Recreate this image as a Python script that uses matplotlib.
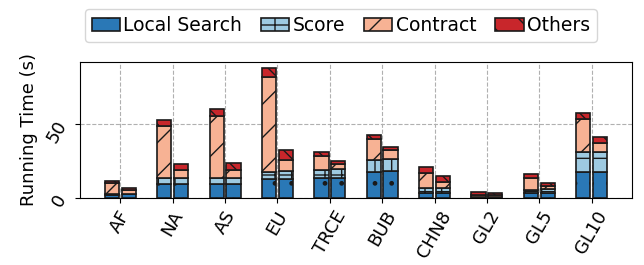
import numpy as np
import matplotlib.pyplot as plt

# datasets
categories = ['AF', 'NA', 'AS', 'EU', 'TRCE', 'BUB', 'CHN8', 'GL2', 'GL5', 'GL10']

# first bar of each pair
local1    = [2.0, 9.2, 9.2, 12.6, 13.3, 17.8, 3.5, 0.6, 3.6, 17.8]
score1    = [1.0, 4.1, 4.1, 5.2, 5.6, 7.9, 3.0, 0.3, 1.8, 13.5]
contract1 = [7.0, 35.3, 42.3, 64.0, 9.7, 14.3, 10.2, 1.3, 8.1, 22.1]
others1   = [1.5, 4.1, 4.3, 6.3, 2.3, 2.8, 4.0, 1.6, 2.7, 3.8]

# second bar of each pair
local2    = [2.5, 9.2, 9.2, 12.6, 13.3, 18.5, 3.5, 0.6, 3.6, 17.8]
score2    = [0.5, 4.1, 4.0, 5.5, 6.3, 7.9, 3.0, 0.3, 2.3, 13.5]
contract2 = [2.5, 5.6, 6.0, 7.9, 3.4, 6.0, 4.5, 0.8, 2.2, 6.1]
others2   = [1.5, 4.1, 4.3, 6.3, 2.0, 1.8, 4.1, 1.4, 1.8, 3.6]

labels = ['Local Search', 'Score', 'Contract', 'Others']
colors = ['#2a78b6', '#9ecae1', '#f7b294', '#c8262b']
hatches = ['.', '+', '/', '\\']

plt.rcParams['hatch.linewidth'] = 1.0

fig = plt.figure(figsize=(6.44, 2.65), dpi=100)
ax = fig.add_axes([80/644, 1 - 198/265, 552/644, 136/265])

x = np.arange(len(categories))
w = 0.27
off = 0.16

for k, (xs, parts) in enumerate([(x - off, [local1, score1, contract1, others1]),
                                 (x + off, [local2, score2, contract2, others2])]):
    bottom = np.zeros(len(categories))
    for i, vals in enumerate(parts):
        ax.bar(xs, vals, w, bottom=bottom, color=colors[i], edgecolor='#1a1a1a',
               linewidth=1.2, hatch=hatches[i], zorder=3,
               label=labels[i] if k == 0 else None)
        bottom += np.array(vals)

ax.set_xlim(-0.77, len(categories) - 1 + 0.77)
ax.set_ylim(0, 92)
ax.set_yticks([0, 50])
ax.set_xticks(x)
ax.set_xticklabels(categories, rotation=60, fontsize=13)
ax.tick_params(axis='y', labelsize=13, labelrotation=60)
ax.set_ylabel('Running Time (s)', fontsize=13)
ax.grid(True, linestyle='--', color='#b0b0b0', linewidth=0.8, zorder=0)

fig.legend(loc='upper center', bbox_to_anchor=(341/644, 1.0), ncol=4,
           fontsize=13.5, handlelength=1.5, handletextpad=0.2,
           columnspacing=1.0, borderpad=0.35)

fig.savefig('out.png', dpi=100)
